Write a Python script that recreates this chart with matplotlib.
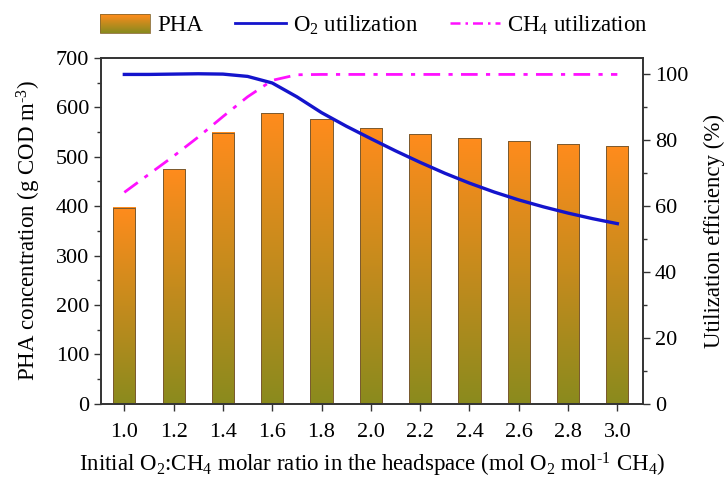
import numpy as np
import matplotlib
matplotlib.use("Agg")
from matplotlib import pyplot as plt
from matplotlib.patches import Rectangle
from matplotlib.lines import Line2D
from matplotlib.legend_handler import HandlerBase
from matplotlib.colors import LinearSegmentedColormap, to_rgb

plt.rcParams['font.family'] = ['Liberation Serif', 'DejaVu Serif']
plt.rcParams['mathtext.fontset'] = 'custom'
plt.rcParams['mathtext.rm'] = 'Liberation Serif'
plt.rcParams['mathtext.it'] = 'Liberation Serif:italic'

# data
ratio = [1.0, 1.2, 1.4, 1.6, 1.8, 2.0, 2.2, 2.4, 2.6, 2.8, 3.0]
pha = [397, 475, 549, 588, 576, 558, 546, 537, 531, 525, 521]

ratio_fine = [1.0, 1.1, 1.2, 1.3, 1.4, 1.5, 1.6, 1.7, 1.8, 1.9, 2.0,
              2.1, 2.2, 2.3, 2.4, 2.5, 2.6, 2.7, 2.8, 2.9, 3.0]
o2_util = [100, 100, 100.1, 100.2, 100.1, 99.4, 97.4, 93.2, 88.4, 84.3, 80.5,
           76.8, 73.3, 70.0, 67.0, 64.3, 61.9, 59.8, 57.9, 56.2, 54.7]
ch4_util = [64.2, 69.7, 75.2, 81.0, 87.2, 93.2, 98.2, 99.9, 100, 100, 100,
            100, 100, 100, 100, 100, 100, 100, 100, 100, 100]

TOP_C = '#ff8c1c'
BOT_C = '#8a8a1e'
cmap = LinearSegmentedColormap.from_list('pha', [BOT_C, TOP_C])


class GradientHandler(HandlerBase):
    def create_artists(self, legend, orig, xd, yd, w, h, fs, trans):
        arts = []
        n = 20
        c0, c1 = np.array(to_rgb(TOP_C)), np.array(to_rgb(BOT_C))
        for i in range(n):
            f = i / (n - 1)
            arts.append(Rectangle((-xd, -yd + h - (i + 1) * h / n), w, h / n * 1.05,
                                  facecolor=c0 * (1 - f) + c1 * f, edgecolor='none',
                                  transform=trans))
        arts.append(Rectangle((-xd, -yd), w, h, facecolor='none', edgecolor='#8a6a30',
                              lw=0.6, transform=trans))
        return arts


fig = plt.figure(figsize=(7.26, 4.79), dpi=100)
ax = fig.add_axes([0.139, 0.157, 0.747, 0.722])

bw = 0.09
grad = np.linspace(0, 1, 256).reshape(-1, 1)
for x, v in zip(ratio, pha):
    ax.imshow(grad, cmap=cmap, origin='lower', aspect='auto',
              extent=[x - bw / 2, x + bw / 2, 0, v], zorder=2)
    ax.add_patch(Rectangle((x - bw / 2, 0), bw, v, facecolor='none',
                           edgecolor='#7a5a30', lw=0.7, zorder=3))

ax.set_xlim(0.905, 3.105)
ax.set_ylim(0, 700)
ax.set_xticks(ratio)
ax.set_xticklabels(['%.1f' % r for r in ratio])
ax.set_yticks(range(0, 701, 100))
ax.set_yticks(range(50, 700, 100), minor=True)
ax.tick_params(axis='both', which='major', direction='out', length=5, width=1,
               labelsize=16, color='#333333')
ax.tick_params(axis='x', which='major', pad=9)
ax.tick_params(axis='y', which='minor', direction='out', length=3, width=1, color='#333333')
ax.set_ylabel('PHA concentration (g COD m$^{\\text{-}3}$)', fontsize=16.5, labelpad=9)
ax.set_xlabel('Initial O$_2$:CH$_4$ molar ratio in the headspace (mol O$_2$ mol$^{\\text{-}1}$ CH$_4$)',
              fontsize=16.5, labelpad=6)
for s in ax.spines.values():
    s.set_color('#333333')
    s.set_linewidth(1.2)

ax2 = ax.twinx()
ax2.set_ylim(0, 105)
ax2.set_yticks(range(0, 101, 20))
ax2.set_yticks(range(10, 100, 20), minor=True)
ax2.tick_params(axis='y', which='major', direction='out', length=5, width=1,
                labelsize=16, color='#333333')
ax2.tick_params(axis='y', which='minor', direction='out', length=3, width=1, color='#333333')
ax2.plot(ratio_fine, o2_util, color='#1414cc', lw=2.4, zorder=4)
ax2.plot(ratio_fine, ch4_util, color='#ff10ff', lw=2.0, ls=(0, (6, 3, 1.5, 3)), zorder=4)
ax2.set_ylabel('Utilization efficiency (%)', fontsize=16.5, labelpad=11)
for s in ax2.spines.values():
    s.set_color('#333333')
    s.set_linewidth(1.2)

handles = [Rectangle((0, 0), 1, 1),
           Line2D([], [], color='#1414cc', lw=2.0),
           Line2D([], [], color='#ff10ff', lw=1.8, ls=(0, (4, 2, 1, 2)))]
labels = ['PHA', 'O$_2$ utilization', 'CH$_4$ utilization']
fig.legend(handles, labels, loc='center', bbox_to_anchor=(0.515, 0.948), ncol=3,
           frameon=False, fontsize=16.5, handlelength=2.2, handleheight=0.9,
           columnspacing=1.4, handletextpad=0.3,
           handler_map={Rectangle: GradientHandler()})

fig.savefig('out.png', dpi=100)
